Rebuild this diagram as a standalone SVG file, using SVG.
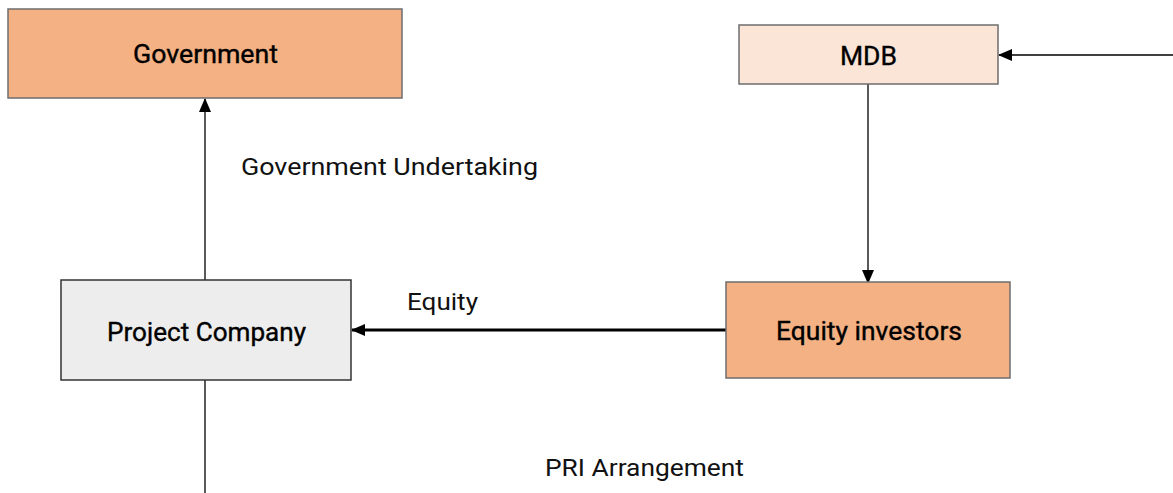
<svg xmlns="http://www.w3.org/2000/svg" width="1173" height="493" viewBox="0 0 1173 493">
<style>
.box{stroke:#6d6d6d;stroke-width:1.5}
.lbl{font-family:Roboto,"Liberation Sans",sans-serif;font-size:25px;font-weight:400;fill:#000;stroke:#000;stroke-width:0.35;text-anchor:middle}
.note{font-family:Roboto,"Liberation Sans",sans-serif;font-size:24px;fill:#111}
.ln{stroke:#000;stroke-width:1.3;fill:none}
</style>
<defs>
<marker id="ah" markerWidth="14" markerHeight="12" refX="13" refY="6" orient="auto" markerUnits="userSpaceOnUse"><path d="M0,0 L14,6 L0,12 z" fill="#000"/></marker>
</defs>
<g id="connectors">
<line class="ln" x1="205" y1="280" x2="205" y2="99" marker-end="url(#ah)"/>
<line class="ln" x1="205" y1="380" x2="205" y2="493"/>
<line class="ln" x1="1173" y1="55" x2="999" y2="55" marker-end="url(#ah)"/>
<line class="ln" x1="868" y1="84" x2="868" y2="283" marker-end="url(#ah)"/>
<line x1="726" y1="330" x2="352" y2="330" stroke="#000" stroke-width="3" marker-end="url(#ah)"/>
</g>
<g id="government"><rect class="box" x="8" y="9" width="394" height="89" fill="#F4B183"/><text class="lbl" x="205.5" y="63" textLength="145" lengthAdjust="spacingAndGlyphs">Government</text></g>
<g id="mdb"><rect class="box" x="739" y="25" width="259" height="59" fill="#FBE5D6"/><text class="lbl" x="868.5" y="65" textLength="57" lengthAdjust="spacingAndGlyphs">MDB</text></g>
<g id="project-company"><rect x="61" y="280" width="290" height="100" fill="#EDEDED" stroke="#333" stroke-width="1.5"/><text class="lbl" x="206.5" y="341" textLength="199" lengthAdjust="spacingAndGlyphs">Project Company</text></g>
<g id="equity-investors"><rect class="box" x="726" y="282" width="284" height="96" fill="#F4B183"/><text class="lbl" x="869" y="340" textLength="186" lengthAdjust="spacingAndGlyphs">Equity investors</text></g>
<text class="note" x="241" y="175" textLength="297" lengthAdjust="spacingAndGlyphs">Government Undertaking</text>
<text class="note" x="407" y="310" textLength="71" lengthAdjust="spacingAndGlyphs">Equity</text>
<text class="note" x="545" y="476" textLength="199" lengthAdjust="spacingAndGlyphs">PRI Arrangement</text>
</svg>
